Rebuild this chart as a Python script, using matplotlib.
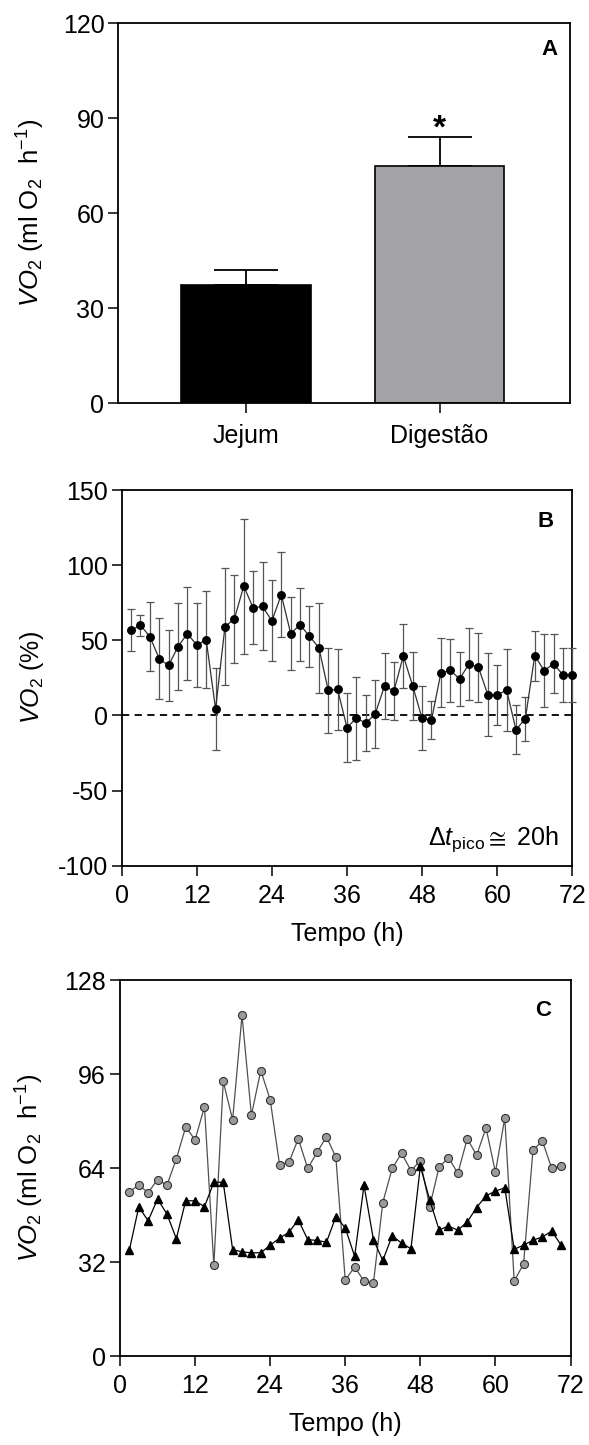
import matplotlib
matplotlib.use("Agg")
import matplotlib.pyplot as plt
import numpy as np

plt.rcParams['font.family'] = ['Liberation Sans', 'DejaVu Sans']
plt.rcParams['mathtext.fontset'] = 'custom'
plt.rcParams['mathtext.rm'] = 'Liberation Sans'
plt.rcParams['mathtext.it'] = 'Liberation Sans:italic'
plt.rcParams['mathtext.bf'] = 'Liberation Sans:bold'
plt.rcParams['axes.unicode_minus'] = False

# ---------------- Panel A data ----------------
groups = ["Jejum", "Digestão"]
vo2_means = [37.2, 75.0]
vo2_errs = [4.9, 9.1]
bar_colors = ["#000000", "#a3a2a7"]

# ---------------- Panel B data ----------------
time_b = [1.5, 3.0, 4.5, 6.0, 7.5, 9.0, 10.5, 12.0, 13.5, 15.0, 16.5, 18.0,
          19.5, 21.0, 22.5, 24.0, 25.5, 27.0, 28.5, 30.0, 31.5, 33.0, 34.5, 36.0,
          37.5, 39.0, 40.5, 42.0, 43.5, 45.0, 46.5, 48.0, 49.5, 51.0, 52.5, 54.0,
          55.5, 57.0, 58.5, 60.0, 61.5, 63.0, 64.5, 66.0, 67.5, 69.0, 70.5, 72.0]
pct_b = [56.7, 60.0, 52.5, 37.6, 33.3, 45.8, 54.5, 46.7, 50.5, 4.2, 59.1, 64.2,
         86.0, 71.6, 72.5, 62.9, 80.3, 54.5, 60.3, 52.7, 45.1, 16.7, 17.3, -8.1,
         -1.8, -5.1, 0.9, 19.6, 16.3, 39.6, 19.6, -2.0, -3.1, 28.3, 30.0, 24.3,
         34.3, 32.0, 13.8, 13.6, 16.9, -9.5, -2.2, 39.8, 29.8, 34.3, 27.1, 27.0]
err_b = [14.0, 7.0, 23.0, 27.0, 23.4, 28.7, 31.0, 28.0, 32.0, 27.4, 39.0, 29.0,
         45.0, 24.4, 29.3, 27.0, 28.4, 24.6, 24.4, 20.4, 30.0, 28.4, 27.0, 23.0,
         27.6, 18.7, 22.4, 21.7, 19.3, 21.3, 22.6, 21.3, 12.4, 23.0, 21.0, 18.2,
         24.0, 23.0, 27.5, 20.0, 27.6, 16.2, 14.7, 16.7, 24.2, 19.7, 18.0, 18.0]

# ---------------- Panel C data ----------------
time_c = [1.5, 3.0, 4.5, 6.0, 7.5, 9.0, 10.5, 12.0, 13.5, 15.0, 16.5, 18.0,
          19.5, 21.0, 22.5, 24.0, 25.5, 27.0, 28.5, 30.0, 31.5, 33.0, 34.5, 36.0,
          37.5, 39.0, 40.5, 42.0, 43.5, 45.0, 46.5, 48.0, 49.5, 51.0, 52.5, 54.0,
          55.5, 57.0, 58.5, 60.0, 61.5, 63.0, 64.5, 66.0, 67.5, 69.0, 70.5]
vo2_circles = [56.0, 58.2, 55.7, 60.1, 58.2, 67.1, 78.0, 73.6, 84.9, 31.0,
               93.5, 80.4, 116.0, 82.0, 97.2, 87.3, 65.2, 66.0, 74.0, 63.9,
               69.4, 74.7, 67.7, 25.9, 30.4, 25.6, 24.8, 52.3, 63.9, 69.1,
               63.2, 66.5, 50.9, 64.4, 67.5, 62.3, 74.0, 68.4, 77.7, 62.6,
               81.1, 25.6, 31.4, 70.1, 73.3, 63.9, 64.8]
vo2_triangles = [36.2, 50.8, 46.1, 53.5, 48.4, 40.0, 52.9, 52.9, 50.9, 59.2,
                 59.2, 36.3, 35.5, 35.2, 35.2, 37.8, 40.2, 42.2, 46.4, 39.7,
                 39.4, 38.8, 47.5, 43.7, 34.0, 58.2, 39.7, 32.6, 41.0, 38.5,
                 36.6, 64.6, 53.2, 43.0, 44.3, 42.9, 45.7, 50.6, 54.6, 56.2,
                 57.3, 36.4, 37.8, 39.5, 40.6, 42.6, 37.8]

xticks_time = [0, 12, 24, 36, 48, 60, 72]

FS = 18
W, H = 589, 1445
fig = plt.figure(figsize=(W / 100, H / 100), dpi=100)


def axes_px(left, top, right, bottom):
    return fig.add_axes([left / W, 1 - bottom / H, (right - left) / W, (bottom - top) / H])


def style(ax):
    for s in ax.spines.values():
        s.set_linewidth(1.3)
    ax.tick_params(direction='out', length=7, width=1.1, labelsize=FS, pad=3)
    ax.tick_params(axis='x', pad=6)


ylab_vo2 = r'$VO_2$ (ml O$_2$  h$^{-1}$)'

# ---------------- Panel A ----------------
axA = axes_px(118.3, 23.3, 570, 403.3)
xpos = np.arange(len(groups))
axA.bar(xpos, vo2_means, width=0.667, color=bar_colors, edgecolor='black', linewidth=1.2, zorder=2)
axA.errorbar(xpos, vo2_means, yerr=[[0, 0], vo2_errs], fmt='none', ecolor='black',
             elinewidth=1.3, capsize=23, capthick=1.3, zorder=1)
axA.text(xpos[1], vo2_means[1] + vo2_errs[1] + 2.6, '*', ha='center', va='center',
         fontsize=24, fontweight='bold')
axA.set_xlim(-0.66, 1.674)
axA.set_ylim(0, 120)
axA.set_yticks([0, 30, 60, 90, 120])
axA.set_xticks(xpos)
axA.set_xticklabels(groups)
style(axA)
axA.tick_params(axis='x', pad=8)
axA.set_ylabel(ylab_vo2, fontsize=18.5, labelpad=11)
axA.text(0.972, 0.93, 'A', transform=axA.transAxes, ha='right', va='center',
         fontsize=16, fontweight='bold')

# ---------------- Panel B ----------------
axB = axes_px(121.7, 490, 572.3, 865.7)
axB.axhline(0, color='black', linestyle=(0, (4, 3)), linewidth=1.3, zorder=1)
axB.errorbar(time_b, pct_b, yerr=err_b, fmt='-o', color='#303030', mfc='black', mec='black',
             ms=5.4, lw=0.9, ecolor='#555555', elinewidth=0.9, capsize=3, capthick=0.9, zorder=3,
             clip_on=False)
axB.set_xlim(0, 72)
axB.set_ylim(-100, 150)
axB.set_xticks(xticks_time)
axB.set_yticks([-100, -50, 0, 50, 100, 150])
style(axB)
axB.set_xlabel('Tempo (h)', fontsize=FS, labelpad=10)
axB.set_ylabel(r'$VO_2$ (%)', fontsize=FS, labelpad=8)
axB.text(0.97, 0.07, r'$\Delta t_{\mathrm{pico}} \cong$ 20h', transform=axB.transAxes,
         ha='right', va='center', fontsize=FS)
axB.text(0.958, 0.915, 'B', transform=axB.transAxes, ha='right', va='center',
         fontsize=16, fontweight='bold')

# ---------------- Panel C ----------------
axC = axes_px(120, 980, 570.5, 1356.3)
axC.plot(time_c, vo2_circles, '-o', color='#505050', lw=0.9, mfc='#9a9a9a', mec='#333333',
         mew=0.8, ms=5.8, zorder=3)
axC.plot(time_c, vo2_triangles, '-^', color='black', lw=0.9, mfc='black', mec='black',
         ms=6.2, zorder=4)
axC.set_xlim(0, 72)
axC.set_ylim(0, 128)
axC.set_xticks(xticks_time)
axC.set_yticks([0, 32, 64, 96, 128])
style(axC)
axC.set_xlabel('Tempo (h)', fontsize=FS, labelpad=10)
axC.set_ylabel(ylab_vo2, fontsize=18.5, labelpad=13)
axC.text(0.958, 0.92, 'C', transform=axC.transAxes, ha='right', va='center',
         fontsize=16, fontweight='bold')

fig.savefig('out.png', dpi=100)
